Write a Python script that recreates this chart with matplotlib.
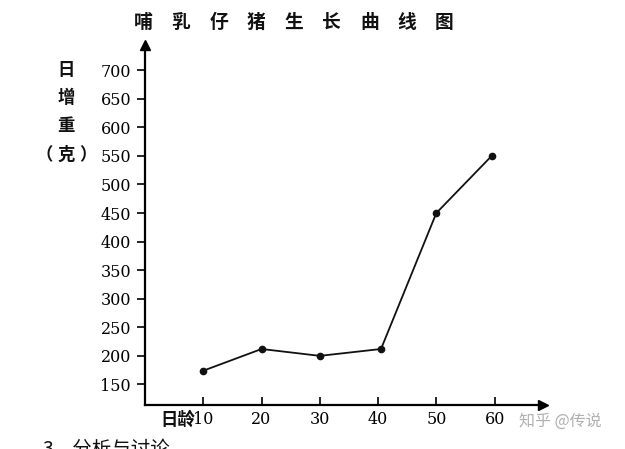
import matplotlib
matplotlib.use("Agg")
import matplotlib.pyplot as plt

plt.rcParams['font.family'] = ['Noto Sans CJK SC', 'DejaVu Sans']

title_chars = ["哺", "乳", "仔", "猪", "生", "长", "曲", "线", "图"]
days = [10, 20, 30, 40.5, 50, 59.5]
gain = [174, 212, 200, 212, 450, 550]
xticks = [10, 20, 30, 40, 50, 60]
yticks = [150, 200, 250, 300, 350, 400, 450, 500, 550, 600, 650, 700]
ylabel_chars = ["日", "增", "重"]
unit_chars = ["（", "克", "）"]

W, H = 625, 449
fig = plt.figure(figsize=(W / 100, H / 100), dpi=100)

def fx(px):
    return px / W

def fy(py):
    return 1 - py / H

ax = fig.add_axes([fx(145), fy(405), fx(543) - fx(145), fy(45) - fy(405)])
ax.set_xlim(0, 68.3)
ax.set_ylim(114, 744)

for s in ['top', 'right']:
    ax.spines[s].set_visible(False)
for s in ['left', 'bottom']:
    ax.spines[s].set_linewidth(1.6)
    ax.spines[s].set_color('black')

# arrow heads
ax.plot(1, 0, marker='>', color='black', markersize=7, transform=ax.transAxes, clip_on=False)
ax.plot(0, 1, marker='^', color='black', markersize=7, transform=ax.transAxes, clip_on=False)

ax.plot(days, gain, color='#111111', linewidth=1.3, marker='o', markersize=4.5)

ax.set_xticks(xticks)
ax.set_xticklabels([str(v) for v in xticks], family='DejaVu Serif', fontsize=11.5, color='black')
ax.set_yticks(yticks)
ax.set_yticklabels([str(v) for v in yticks], family='DejaVu Serif', fontsize=11.5, color='black')
ax.tick_params(axis='x', direction='in', length=6, width=1.2, pad=4)
ax.tick_params(axis='y', direction='out', length=6, width=1.2, pad=4)

# title
x0, x1 = 143.5, 444.5
n = len(title_chars)
for i, ch in enumerate(title_chars):
    fig.text(fx(x0 + (x1 - x0) * i / (n - 1)), fy(22), ch, fontsize=13.5,
             fontweight='bold', ha='center', va='center', color='#111111')

# y label
ylab_y = [70, 98, 126]
for ch, py in zip(ylabel_chars, ylab_y):
    fig.text(fx(66), fy(py), ch, fontsize=12.5, fontweight='bold',
             ha='center', va='center', color='#111111')
for ch, px in zip(unit_chars, [44, 66, 88]):
    fig.text(fx(px), fy(155), ch, fontsize=12.5, fontweight='bold',
             ha='center', va='center', color='#111111')

# x label
fig.text(fx(195), fy(420), "日龄", fontsize=12.5, fontweight='bold',
         ha='right', va='center', color='#111111')

# watermark
fig.text(fx(560), fy(421), "知乎 @传说", fontsize=11.5, ha='center', va='center',
         color='#b0b0b0')

# cut-off text at bottom
fig.text(fx(42), fy(439), "3．分析与讨论", fontsize=14, ha='left', va='top',
         color='#111111')

fig.savefig("out.png", dpi=100)
